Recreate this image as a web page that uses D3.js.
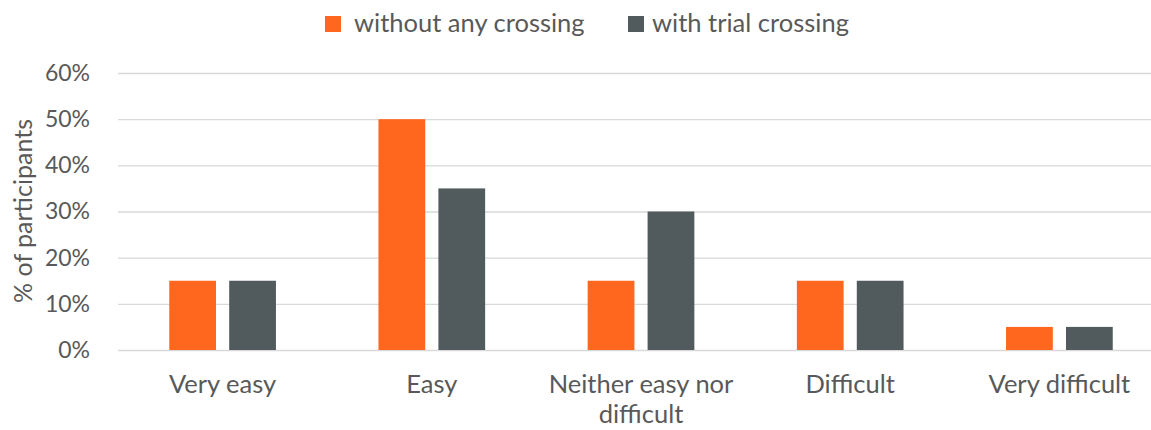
<!DOCTYPE html>
<html>
<head>
  <meta charset="utf-8">
  <script src="https://d3js.org/d3.v7.min.js"></script>
  <style>
    body { margin: 0; background: #fff; }
    text { font-family: Lato, "Open Sans", sans-serif; fill: #595959; }
  </style>
</head>
<body>
<script>
var categories = ["Very easy", "Easy", "Neither easy nor difficult", "Difficult", "Very difficult"];
var seriesNames = ["without any crossing", "with trial crossing"];
var withoutCrossing = [15, 50, 15, 15, 5];
var withTrial = [15, 35, 30, 15, 5];
var yTicks = [0, 10, 20, 30, 40, 50, 60];
var colors = ["#FF671F", "#515A5C"];

var svgWidth = 1151, svgHeight = 430;
var margin = {left: 118, top: 73, right: -13, bottom: 80};

var svg = d3.select("body").append("svg")
    .attr("width", svgWidth)
    .attr("height", svgHeight);

var x0 = d3.scaleBand()
    .domain(categories)
    .range([margin.left, svgWidth - margin.right])
    .paddingInner(0.49)
    .paddingOuter(0.245);

var x1 = d3.scaleBand()
    .domain(seriesNames)
    .range([0, x0.bandwidth()])
    .paddingInner(0.22);

var y = d3.scaleLinear()
    .domain([0, 60])
    .range([350, margin.top]);

// gridlines
svg.append("g")
  .selectAll("line")
  .data(yTicks)
  .enter().append("line")
    .attr("x1", margin.left)
    .attr("x2", svgWidth - margin.right)
    .attr("y1", function(d) { return y(d) + 0.5; })
    .attr("y2", function(d) { return y(d) + 0.5; })
    .attr("stroke", "#D9D9D9")
    .attr("stroke-width", 1.3);

// y labels
var yAxis = svg.append("g")
    .attr("transform", "translate(" + margin.left + ",0)")
    .call(d3.axisLeft(y).tickValues(yTicks).tickSize(0).tickPadding(28)
      .tickFormat(function(d) { return d + "%"; }));
yAxis.select(".domain").remove();
yAxis.selectAll("text")
    .style("font-size", "23px")
    .style("font-family", "Lato, sans-serif")
    .attr("fill", "#595959");

var data = categories.map(function(c, i) {
  return {cat: c, values: [withoutCrossing[i], withTrial[i]]};
});

var groups = svg.append("g").selectAll("g")
  .data(data)
  .enter().append("g")
    .attr("transform", function(d) { return "translate(" + x0(d.cat) + ",0)"; });

groups.selectAll("rect")
  .data(function(d) { return d.values.map(function(v, j) { return {s: seriesNames[j], v: v, j: j}; }); })
  .enter().append("rect")
    .attr("x", function(d) { return x1(d.s); })
    .attr("width", x1.bandwidth())
    .attr("y", function(d) { return y(d.v); })
    .attr("height", function(d) { return y(0) - y(d.v); })
    .attr("fill", function(d) { return colors[d.j]; });

// x labels (wrapped)
var xLabels = svg.append("g").selectAll("text")
  .data(categories)
  .enter().append("text")
    .attr("x", function(d) { return x0(d) + x0.bandwidth() / 2; })
    .attr("y", 393)
    .attr("text-anchor", "middle")
    .style("font-size", "25.5px");

xLabels.each(function(d) {
  var t = d3.select(this);
  var lines = d === "Neither easy nor difficult" ? ["Neither easy nor", "difficult"] : [d];
  lines.forEach(function(l, k) {
    t.append("tspan")
      .attr("x", x0(d) + x0.bandwidth() / 2)
      .attr("dy", k === 0 ? 0 : 30)
      .text(l);
  });
});

// y title
svg.append("text")
    .attr("transform", "translate(32,211) rotate(-90)")
    .attr("text-anchor", "middle")
    .style("font-size", "25px")
    .text("% of participants");

// legend
var legendRectX = [325, 628];
var legendTextX = [354, 652];
var legend = svg.append("g").selectAll("g")
  .data(seriesNames)
  .enter().append("g");
legend.append("rect")
    .attr("x", function(d, i) { return legendRectX[i]; })
    .attr("y", 16)
    .attr("width", 16).attr("height", 16)
    .attr("fill", function(d, i) { return colors[i]; });
legend.append("text")
    .attr("x", function(d, i) { return legendTextX[i]; })
    .attr("y", 32)
    .style("font-size", "25.5px")
    .text(function(d) { return d; });
</script>
</body>
</html>
